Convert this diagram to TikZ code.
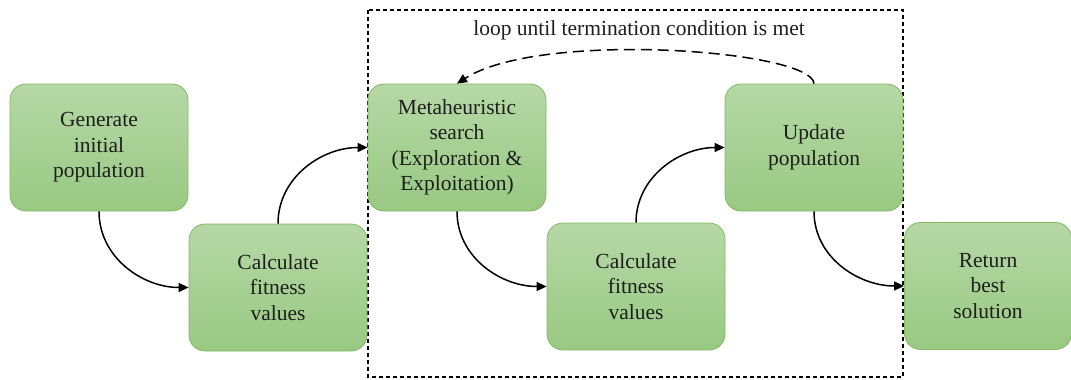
\documentclass[tikz,border=0pt]{standalone}
\usepackage{fontspec}
\setmainfont{Liberation Serif}
\usetikzlibrary{arrows.meta}

\definecolor{boxtop}{RGB}{182,216,166}
\definecolor{boxbot}{RGB}{152,201,130}
\definecolor{boxline}{RGB}{130,186,100}
\definecolor{txt}{RGB}{30,30,30}

\begin{document}
\begin{tikzpicture}
[
    x=1pt, y=-1pt,
    stage/.style={draw=boxline, line width=0.8pt, top color=boxtop, bottom color=boxbot,
        rounded corners=16pt, minimum width=178pt, minimum height=127pt,
        align=center, text=txt, font=\fontsize{21.5}{25.5}\selectfont},
    flow/.style={line width=1.5pt, -{Triangle[length=10pt,width=9pt]}},
]
\useasboundingbox (0,0) rectangle (1071,380);
% loop frame
\draw [line width=1.2pt, dash pattern=on 4pt off 3pt] (368,10) rectangle (903,377);
\node [text=txt, font=\fontsize{21.5}{25.5}\selectfont] (looptxt) at (639,30)
{loop until termination condition is met};
% stages
\node [stage] (gen) at (99,147.5) {Generate\\initial\\population};
\node [stage] (fit1) at (278,287.5) {Calculate\\fitness\\values};
\node [stage] (meta) at (457,147.5) {Metaheuristic\\search\\(Exploration \&\\Exploitation)};
\node [stage] (fit2) at (636,286.5) {Calculate\\fitness\\values};
\node [stage] (upd) at (814,147.5) {Update\\population};
\node [stage, minimum width=167pt] (ret) at (988,286) {Return\\best\\solution};
% connectors
\draw [flow] (gen.south) to[out=-90,in=180] (fit1.west);
\draw [flow] (fit1.north) to[out=90,in=180] (meta.west);
\draw [flow] (meta.south) to[out=-90,in=180] (fit2.west);
\draw [flow] (fit2.north) to[out=90,in=180] (upd.west);
\draw [flow] (upd.south) to[out=-90,in=180] (ret.west);
\draw [flow, dash pattern=on 11pt off 6pt] (upd.north) .. controls (812,50) and (540,30) .. (meta.north);
\end{tikzpicture}
\end{document}
